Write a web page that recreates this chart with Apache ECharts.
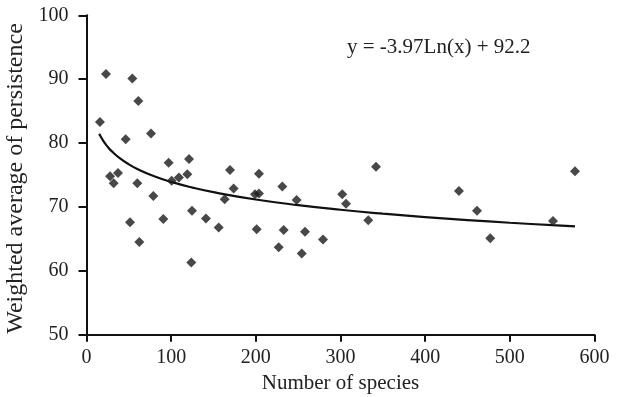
<!DOCTYPE html>
<html>
<head>
<meta charset="utf-8">
<script src="https://cdn.jsdelivr.net/npm/echarts@6/dist/echarts.min.js"></script>
<style>html,body{margin:0;padding:0;background:#fff}#c{width:618px;height:397px}</style>
</head>
<body>
<div id="c"></div>
<script>
const speciesCount = [15.9,23.0,27.8,32.1,37.2,46.3,51.4,54.1,60.0,61.2,62.4,76.2,78.9,90.7,97.0,100.6,109.2,119.1,121.1,123.8,124.6,141.1,156.1,163.2,169.5,173.8,199.0,201.0,203.7,203.7,227.0,231.3,232.9,248.2,254.2,258.1,279.3,302.1,306.5,332.8,341.9,439.9,461.2,476.9,551.0,577.0];
const persistence = [83.3,90.8,74.8,73.7,75.3,80.6,67.6,90.1,73.7,86.6,64.5,81.5,71.7,68.1,76.9,74.1,74.6,75.1,77.5,61.3,69.4,68.2,66.8,71.2,75.8,72.9,72.0,66.5,72.1,75.2,63.7,73.2,66.4,71.1,62.7,66.1,64.9,72.0,70.5,67.9,76.3,72.5,69.4,65.1,67.8,75.6];
const trendSlope = -3.97, trendIntercept = 92.2;
const trendX = [15,20,25,30,40,50,60,80,100,125,150,200,250,300,350,400,450,500,550,577];
const xTicks = [0,100,200,300,400,500,600];
const yTicks = [50,60,70,80,90,100];
const equationText = 'y = -3.97Ln(x) + 92.2';

const scatterData = speciesCount.map((x,i)=>[x, persistence[i]]);
const trendData = trendX.map(x=>[x, trendSlope*Math.log(x)+trendIntercept]);
const font = 'Liberation Serif';
const chart = echarts.init(document.getElementById('c'), null, {renderer:'canvas'});
chart.setOption({
  animation:false,
  backgroundColor:'#fff',
  grid:{left:86.5, right:23.5, top:15.3, bottom:62.3, containLabel:false, outerBoundsMode:'none'},
  xAxis:{type:'value', min:xTicks[0], max:xTicks[xTicks.length-1], interval:100,
    name:'Number of species', nameLocation:'middle', nameGap:38,
    nameTextStyle:{fontFamily:font, fontSize:21, color:'#222'},
    axisLine:{lineStyle:{color:'#111', width:2}},
    axisTick:{show:true, length:7, lineStyle:{color:'#111', width:2}},
    axisLabel:{fontFamily:font, fontSize:20, color:'#222', margin:13},
    splitLine:{show:false}},
  yAxis:{type:'value', min:yTicks[0], max:yTicks[yTicks.length-1], interval:10,
    name:'Weighted average of persistence', nameLocation:'middle', nameGap:51,
    nameTextStyle:{fontFamily:font, fontSize:24, color:'#222', padding:[0,7,0,0]},
    axisLine:{show:true, lineStyle:{color:'#111', width:2}},
    axisTick:{show:true, length:8, lineStyle:{color:'#111', width:2}},
    axisLabel:{fontFamily:font, fontSize:20, color:'#222', margin:18},
    splitLine:{show:false}},
  graphic:[{type:'text', left:347, top:37, style:{text:equationText, font:'21px "Liberation Serif"', fill:'#222'}}],
  series:[
    {type:'line', data:trendData, smooth:true, showSymbol:false, symbol:'none',
      lineStyle:{color:'#111', width:2.2}, z:2},
    {type:'scatter', data:scatterData, symbol:'diamond', symbolSize:10,
      itemStyle:{color:'#1a1a1a'}, z:3}
  ]
});
</script>
</body>
</html>
